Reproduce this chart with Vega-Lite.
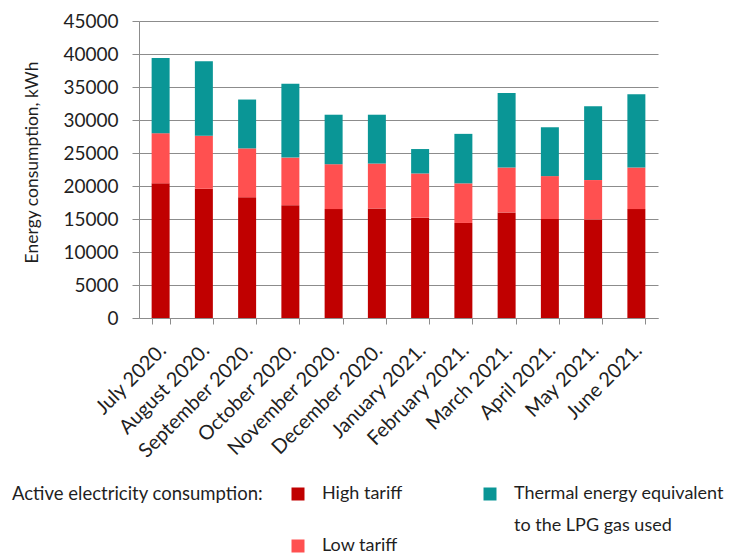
{
  "$schema": "https://vega.github.io/schema/vega-lite/v6.json",
  "autosize": "none",
  "width": 519,
  "height": 297,
  "padding": {"left": 139, "top": 21, "right": 79, "bottom": 237},
  "background": "white",
  "data": {
    "values": [
      {"month": "July 2020.", "series": "High tariff", "kwh": 20400},
      {"month": "July 2020.", "series": "Low tariff", "kwh": 7600},
      {"month": "July 2020.", "series": "Thermal energy equivalent to the LPG gas used", "kwh": 11400},
      {"month": "August 2020.", "series": "High tariff", "kwh": 19600},
      {"month": "August 2020.", "series": "Low tariff", "kwh": 8000},
      {"month": "August 2020.", "series": "Thermal energy equivalent to the LPG gas used", "kwh": 11300},
      {"month": "September 2020.", "series": "High tariff", "kwh": 18300},
      {"month": "September 2020.", "series": "Low tariff", "kwh": 7400},
      {"month": "September 2020.", "series": "Thermal energy equivalent to the LPG gas used", "kwh": 7400},
      {"month": "October 2020.", "series": "High tariff", "kwh": 17100},
      {"month": "October 2020.", "series": "Low tariff", "kwh": 7200},
      {"month": "October 2020.", "series": "Thermal energy equivalent to the LPG gas used", "kwh": 11200},
      {"month": "November 2020.", "series": "High tariff", "kwh": 16500},
      {"month": "November 2020.", "series": "Low tariff", "kwh": 6800},
      {"month": "November 2020.", "series": "Thermal energy equivalent to the LPG gas used", "kwh": 7500},
      {"month": "December 2020.", "series": "High tariff", "kwh": 16600},
      {"month": "December 2020.", "series": "Low tariff", "kwh": 6800},
      {"month": "December 2020.", "series": "Thermal energy equivalent to the LPG gas used", "kwh": 7400},
      {"month": "January 2021.", "series": "High tariff", "kwh": 15200},
      {"month": "January 2021.", "series": "Low tariff", "kwh": 6700},
      {"month": "January 2021.", "series": "Thermal energy equivalent to the LPG gas used", "kwh": 3700},
      {"month": "February 2021.", "series": "High tariff", "kwh": 14400},
      {"month": "February 2021.", "series": "Low tariff", "kwh": 6000},
      {"month": "February 2021.", "series": "Thermal energy equivalent to the LPG gas used", "kwh": 7500},
      {"month": "March 2021.", "series": "High tariff", "kwh": 16000},
      {"month": "March 2021.", "series": "Low tariff", "kwh": 6800},
      {"month": "March 2021.", "series": "Thermal energy equivalent to the LPG gas used", "kwh": 11300},
      {"month": "April 2021.", "series": "High tariff", "kwh": 15000},
      {"month": "April 2021.", "series": "Low tariff", "kwh": 6500},
      {"month": "April 2021.", "series": "Thermal energy equivalent to the LPG gas used", "kwh": 7400},
      {"month": "May 2021.", "series": "High tariff", "kwh": 14900},
      {"month": "May 2021.", "series": "Low tariff", "kwh": 6000},
      {"month": "May 2021.", "series": "Thermal energy equivalent to the LPG gas used", "kwh": 11200},
      {"month": "June 2021.", "series": "High tariff", "kwh": 16500},
      {"month": "June 2021.", "series": "Low tariff", "kwh": 6300},
      {"month": "June 2021.", "series": "Thermal energy equivalent to the LPG gas used", "kwh": 11100}
    ]
  },
  "mark": {"type": "bar"},
  "encoding": {
    "x": {
      "field": "month",
      "type": "nominal",
      "sort": null,
      "scale": {"paddingInner": 0.584, "paddingOuter": 0.292},
      "axis": {
        "title": null,
        "labelAngle": -45,
        "labelAlign": "right",
        "labelBaseline": "middle",
        "labelPadding": 23,
        "labelOffset": 2,
        "tickBand": "extent",
        "tickSize": 6,
        "tickColor": "#8c8c8c",
        "domainColor": "#8c8c8c",
        "labelFont": "Lato",
        "labelFontSize": 20,
        "labelColor": "#1f1f1f",
        "labelLimit": 300
      }
    },
    "y": {
      "field": "kwh",
      "type": "quantitative",
      "stack": "zero",
      "scale": {"domain": [0, 45000], "nice": false},
      "axis": {
        "title": "Energy consumption,  kWh",
        "values": [0, 5000, 10000, 15000, 20000, 25000, 30000, 35000, 40000, 45000],
        "format": "d",
        "grid": true,
        "gridColor": "#8c8c8c",
        "tickColor": "#8c8c8c",
        "domainColor": "#8c8c8c",
        "tickSize": 7,
        "labelPadding": 14,
        "labelFont": "Lato",
        "labelFontSize": 19,
        "labelColor": "#1f1f1f",
        "titleFont": "Lato",
        "titleFontSize": 17.5,
        "titleFontWeight": "normal",
        "titleColor": "#1f1f1f",
        "titleBaseline": "middle",
        "titleX": -107,
        "titleY": 141
      }
    },
    "color": {
      "field": "series",
      "type": "nominal",
      "scale": {
        "domain": ["High tariff", "Low tariff", "Thermal energy equivalent to the LPG gas used"],
        "range": ["#c00000", "#ff5050", "#0a9696"]
      },
      "legend": {
        "orient": "none",
        "legendX": -127,
        "legendY": 464,
        "columns": 2,
        "title": "Active electricity consumption:",
        "titleOrient": "left",
        "titleAnchor": "start",
        "titlePadding": 25,
        "titleLimit": 400,
        "titleFont": "Lato",
        "titleFontSize": 18.5,
        "titleFontWeight": "normal",
        "titleColor": "#1f1f1f",
        "symbolType": "square",
        "symbolSize": 169,
        "symbolStrokeWidth": 0,
        "labelFont": "Lato",
        "labelFontSize": 18,
        "labelColor": "#1f1f1f",
        "labelOffset": 15,
        "labelLimit": 400,
        "columnPadding": 78,
        "rowPadding": 2,
        "labelExpr": "datum.label == 'Thermal energy equivalent to the LPG gas used' ? ['Thermal energy equivalent', 'to the LPG gas used'] : [datum.label, '']"
      }
    },
    "order": {"field": "series", "sort": "ascending"}
  },
  "config": {
    "view": {"stroke": null},
    "style": {"guide-label": {"lineHeight": 32}}
  }
}
